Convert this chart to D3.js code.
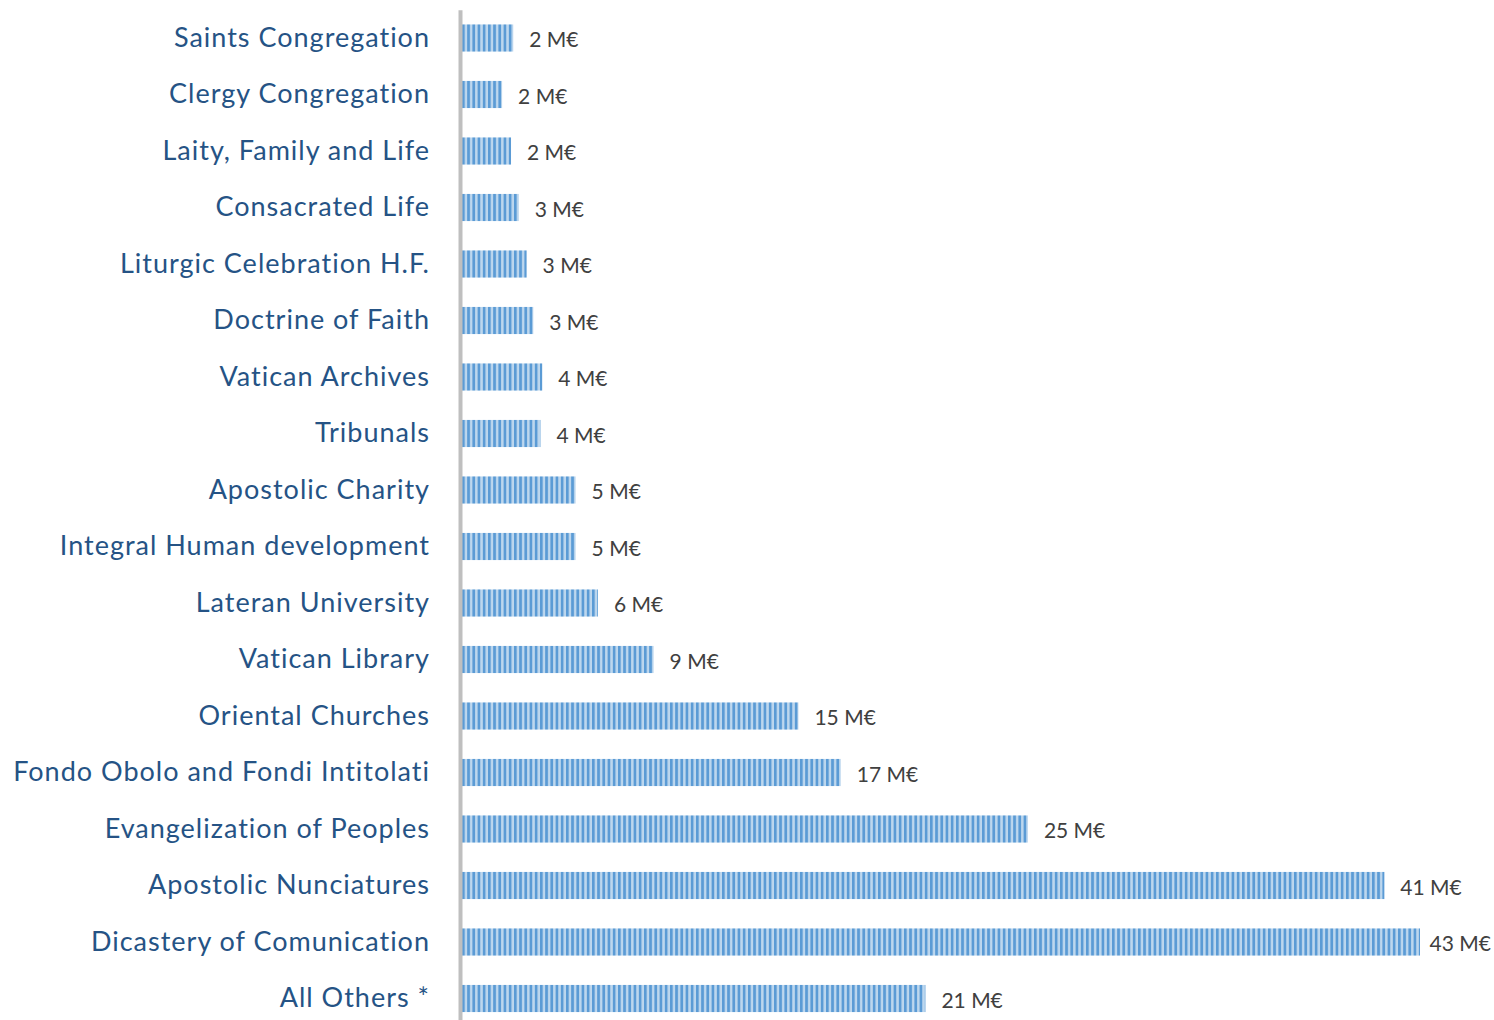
<!DOCTYPE html>
<html>
<head>
<meta charset="utf-8">
<script src="https://cdn.jsdelivr.net/npm/d3@7"></script>
<style>
  body { margin: 0; background: #fff; }
</style>
</head>
<body>
<div id="chart"></div>
<script>
// data (M€)
var categories = ["Saints Congregation", "Clergy Congregation", "Laity, Family and Life",
  "Consacrated Life", "Liturgic Celebration H.F.", "Doctrine of Faith", "Vatican Archives",
  "Tribunals", "Apostolic Charity", "Integral Human development", "Lateran University",
  "Vatican Library", "Oriental Churches", "Fondo Obolo and Fondi Intitolati",
  "Evangelization of Peoples", "Apostolic Nunciatures", "Dicastery of Comunication", "All Others *"]
var values = [2.3, 1.8, 2.2, 2.55, 2.9, 3.2, 3.6, 3.52, 5.1, 5.1, 6.1, 8.6, 15.1, 17.0, 25.4, 41.4, 43.0, 20.8]
var unit = " M€"

var width = 1494,
    height = 1020

var svg = d3.select("#chart")
  .append("svg")
    .attr("width", width)
    .attr("height", height)

// pattern for the striped bars
var defs = svg.append("defs")
var pat = defs.append("pattern")
    .attr("id", "stripes")
    .attr("patternUnits", "userSpaceOnUse")
    .attr("x", 462)
    .attr("width", 5.2)
    .attr("height", 10)
pat.append("rect").attr("width", 5.2).attr("height", 10).attr("fill", "#5b9bd5")
pat.append("rect").attr("x", 2.7).attr("width", 2.5).attr("height", 10).attr("fill", "#bdd7ee")

var x = d3.scaleLinear()
    .domain([0, 43])
    .range([462, 1420])

var y = d3.scaleBand()
    .domain(categories)
    .range([9.75, 1026.75])
    .paddingInner(0.52)
    .paddingOuter(0.26)

// bars
svg.append("g")
  .selectAll("rect")
  .data(values)
  .enter()
  .append("rect")
    .attr("x", x(0))
    .attr("y", function(d, i) { return y(categories[i]); })
    .attr("width", function(d) { return x(d) - x(0); })
    .attr("height", y.bandwidth())
    .attr("fill", "url(#stripes)")

// value labels
svg.append("g")
  .selectAll("text")
  .data(values)
  .enter()
  .append("text")
    .attr("x", function(d) { return x(d) + 16; })
    .attr("y", function(d, i) { return y(categories[i]) + y.bandwidth() / 2; })
    .attr("dy", "0.45em")
    .style("font-family", "Lato, sans-serif")
    .style("font-size", "21px")
    .style("fill", "#404040")
    .text(function(d) { return d3.format(".0f")(d) + unit; })
    .each(function() {
      // keep labels inside the picture
      var b = this.getBBox()
      if (b.x + b.width > width - 3) d3.select(this).attr("x", width - 3 - b.width)
    })

// category axis
var axis = svg.append("g")
    .attr("transform", "translate(460,0)")
    .call(d3.axisLeft(y).tickSize(0).tickPadding(30))
axis.select(".domain")
    .attr("stroke", "#bfbfbf")
    .attr("stroke-width", 4)
axis.selectAll("text")
    .style("font-family", "Lato, sans-serif")
    .style("font-size", "27px")
    .style("letter-spacing", "1px")
    .style("fill", "#255385")
</script>
</body>
</html>
